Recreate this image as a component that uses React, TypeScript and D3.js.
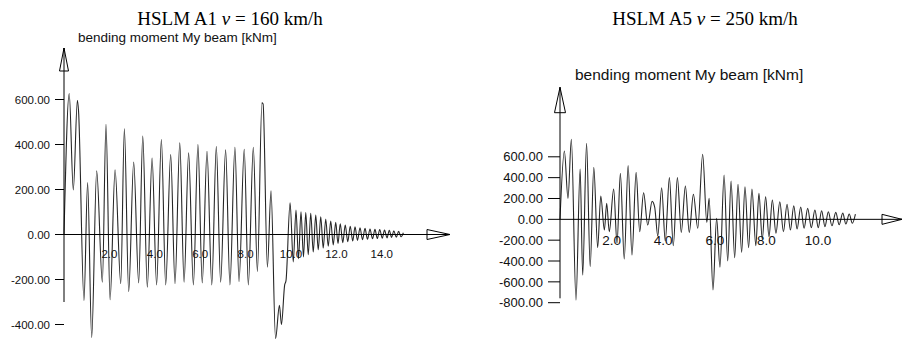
import React from 'react';
import * as d3 from 'd3';

type Pt = [number, number];

const a1Name = 'HSLM A1';
const a1Speed = '160 km/h';
const a5Name = 'HSLM A5';
const a5Speed = '250 km/h';
const yLabel = 'bending moment My beam [kNm]';

const a1YTicks = [600, 400, 200, 0, -200, -400];
const a1XTicks = [2, 4, 6, 8, 10, 12, 14];
const a5YTicks = [600, 400, 200, 0, -200, -400, -600, -800];
const a5XTicks = [2, 4, 6, 8, 10];

// peaks / troughs: [time, moment kNm]
const a1Points: Pt[] = [
  [0, 0], [0.23, 627], [0.41, 198], [0.59, 597], [0.64, 550], [0.88, -294], [1.04, 231], [1.22, -458],
  [1.44, 283], [1.69, -212], [1.85, 490], [2.03, -290], [2.25, 288], [2.50, -219], [2.66, 470], [2.85, -254],
  [3.07, 322], [3.29, -215], [3.47, 437], [3.67, -234], [3.88, 340], [4.08, -224], [4.29, 422], [4.48, -224],
  [4.70, 355], [4.89, -219], [5.10, 407], [5.29, -212], [5.49, 363], [5.70, -224], [5.90, 400], [6.09, -215],
  [6.30, 370], [6.51, -224], [6.71, 391], [6.90, -212], [7.12, 376], [7.31, -224], [7.53, 388], [7.71, -209],
  [7.94, 379], [8.12, -224], [8.34, 388], [8.52, -164], [8.72, 585], [8.77, 580], [8.96, -145], [9.12, 194],
  [9.32, -462], [9.49, -315], [9.58, -400], [9.72, -225], [9.78, -205], [9.96, 141],
  [10.10, -122], [10.22, 109], [10.33, -108], [10.44, 101], [10.55, -100], [10.65, 97], [10.76, -90], [10.87, 94],
  [10.98, -78], [11.09, 87], [11.20, -68], [11.31, 79], [11.42, -60], [11.53, 69], [11.64, -52], [11.75, 60],
  [11.86, -46], [11.97, 54], [12.07, -40], [12.17, 48], [12.28, -36], [12.39, 42], [12.50, -32], [12.61, 37],
  [12.72, -29], [12.82, 34], [12.93, -26], [13.04, 30], [13.15, -23], [13.26, 27], [13.37, -21], [13.48, 24],
  [13.59, -19], [13.70, 23], [13.80, -18], [13.91, 22], [14.02, -16], [14.12, 20], [14.23, -15], [14.33, 19],
  [14.43, -13], [14.53, 16], [14.64, -12], [14.74, 14], [14.85, -10], [14.95, 8],
];

const a5Points: Pt[] = [
  [0, 0], [0.17, 655], [0.31, 201], [0.44, 768], [0.62, -775], [0.78, 483], [0.88, -535], [1.03, 729],
  [1.17, -455], [1.31, 499], [1.46, -272], [1.58, 224], [1.72, -103], [1.81, 153], [1.91, -119], [2.08, 291],
  [2.21, -230], [2.34, 441], [2.49, -381], [2.64, 515], [2.79, -343], [2.95, 451], [3.09, -119], [3.24, 255],
  [3.40, -55], [3.57, 172], [3.67, 118], [3.79, -160], [3.94, 303], [4.08, -208], [4.24, 400], [4.39, -253],
  [4.55, 400], [4.70, -125], [4.86, 320], [5.01, -125], [5.17, 240], [5.34, -86], [5.53, 624], [5.69, -29],
  [5.78, 201], [5.93, -678], [6.07, 10], [6.20, -460], [6.36, 425], [6.50, -400], [6.63, 368], [6.77, -368],
  [6.90, 336], [7.04, -317], [7.17, 313], [7.31, -272], [7.44, 291], [7.59, -253], [7.71, 249],
  [7.84, -190], [7.97, 217], [8.10, -167], [8.23, 185], [8.37, -134], [8.52, 169], [8.66, -119], [8.80, 144],
  [8.93, -103], [9.06, 131], [9.19, -93], [9.33, 118], [9.46, -86], [9.60, 105], [9.74, -80], [9.88, 89],
  [10.01, -80], [10.14, 83], [10.27, -70], [10.40, 73], [10.54, -62], [10.69, 67], [10.82, -52], [10.96, 60],
  [11.08, -45], [11.21, 51], [11.33, -38], [11.45, 50],
];

type PanelProps = {
  name: string,
  speed: string,
  points: Pt[],
  xTicks: number[],
  yTicks: number[],
  xDomain: [number, number],
  xRange: [number, number],
  yDomain: [number, number],
  yRange: [number, number],
  titleX: number,
  subX: number,
  subY: number,
  subSize: number,
  yTop: number,
  yArrowBase: number,
  yArrowHalf: number,
  yBottom: number,
  xEnd: number,
  xArrowBase: number,
  tickLen: number,
  labelGap: number,
  yFont: number,
  xFont: number,
  xLabelDy: number,
}

const Panel = (p: PanelProps) => {
  const x = d3.scaleLinear().domain(p.xDomain).range(p.xRange);
  const y = d3.scaleLinear().domain(p.yDomain).range(p.yRange);
  const x0 = x(0);
  const y0 = y(0);
  const line = d3.line<Pt>().x(d => x(d[0])).y(d => y(d[1])).curve(d3.curveMonotoneX);
  const sans = '"Liberation Sans", Arial, sans-serif';
  return (
    <g>
      <text x={p.titleX} y={25} textAnchor="middle" fontFamily='"Liberation Serif", "Times New Roman", serif' fontSize={19} fill="#000">
        {p.name} <tspan fontStyle="italic">v</tspan> = {p.speed}
      </text>
      <text x={p.subX} y={p.subY} fontFamily={sans} fontSize={p.subSize} fill="#111">{yLabel}</text>

      <path d={line(p.points) ?? ''} fill="none" stroke="#262626" strokeWidth={1.1}/>

      {/* y axis */}
      <line x1={x0} x2={x0} y1={p.yTop} y2={p.yBottom} stroke="#000"/>
      <path d={`M${x0},${p.yTop}L${x0 - p.yArrowHalf},${p.yArrowBase}L${x0 + p.yArrowHalf},${p.yArrowBase}Z`} fill="#fff" stroke="#000"/>
      <line x1={x0} x2={x0} y1={p.yTop} y2={p.yArrowBase} stroke="#000"/>
      {p.yTicks.map(v => (
        <g key={v} transform={`translate(0, ${y(v)})`}>
          <line x1={x0 - p.tickLen} x2={x0} stroke="#000"/>
          <text x={x0 - p.labelGap} dy="0.36em" textAnchor="end" fontFamily={sans} fontSize={p.yFont} fill="#111">{v.toFixed(2)}</text>
        </g>
      ))}

      {/* x axis */}
      <line x1={x0} x2={p.xEnd} y1={y0} y2={y0} stroke="#000"/>
      <path d={`M${p.xEnd},${y0}L${p.xArrowBase},${y0 - 5}L${p.xArrowBase},${y0 + 5}Z`} fill="#fff" stroke="#000"/>
      <line x1={p.xArrowBase} x2={p.xEnd} y1={y0} y2={y0} stroke="#000"/>
      {p.xTicks.map(t => (
        <text key={t} x={x(t)} y={y0 + p.xLabelDy} textAnchor="middle" fontFamily={sans} fontSize={p.xFont} fill="#111">{t.toFixed(1)}</text>
      ))}
    </g>
  );
}

export default function App() {
  return (
    <svg width={904} height={339} style={{position: 'absolute', left: 0, top: 0, background: '#fff'}}>
      <Panel name={a1Name} speed={a1Speed} points={a1Points} xTicks={a1XTicks} yTicks={a1YTicks}
        xDomain={[0, 14]} xRange={[64, 381.8]} yDomain={[-400, 600]} yRange={[324.5, 99.5]}
        titleX={230} subX={78} subY={42} subSize={13.5}
        yTop={48} yArrowBase={71} yArrowHalf={4.5} yBottom={302}
        xEnd={450} xArrowBase={427} tickLen={9} labelGap={14}
        yFont={11.5} xFont={11.5} xLabelDy={23}/>
      <Panel name={a5Name} speed={a5Speed} points={a5Points} xTicks={a5XTicks} yTicks={a5YTicks}
        xDomain={[0, 10]} xRange={[560, 818]} yDomain={[-800, 600]} yRange={[302.7, 156.8]}
        titleX={705} subX={575} subY={80} subSize={15.5}
        yTop={87.3} yArrowBase={112.7} yArrowHalf={5.5} yBottom={298.3}
        xEnd={902} xArrowBase={882} tickLen={12} labelGap={17}
        yFont={13} xFont={13.5} xLabelDy={26}/>
    </svg>
  );
}
